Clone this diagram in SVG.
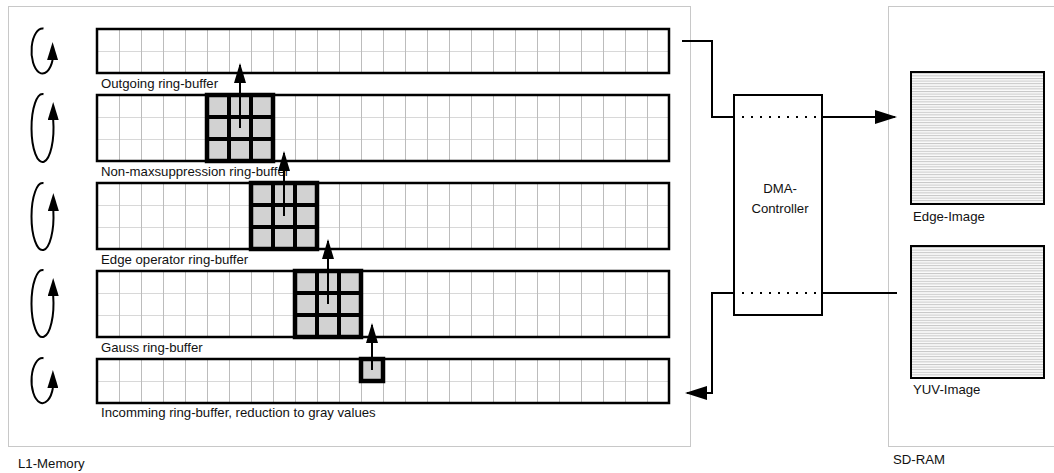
<svg xmlns="http://www.w3.org/2000/svg" width="1054" height="473" viewBox="0 0 1054 473">
  <style>
    text { font-family: "Liberation Sans", Arial, sans-serif; font-size: 13.2px; fill: #111; }
    .container { fill: none; stroke: #c8c8c8; stroke-width: 1; }
    .buffer { fill: url(#grid); stroke: #000; stroke-width: 2.5; }
    .kernel { fill: #d2d2d2; stroke: #000; stroke-width: 4.5; }
    .kline { stroke: #000; stroke-width: 4; }
    .loop { fill: none; stroke: #000; stroke-width: 2; marker-end: url(#loop-head); }
    .flow { fill: none; stroke: #000; stroke-width: 2; }
    .up { marker-end: url(#arrow); }
    .big { marker-end: url(#arrow-lg); }
    .image { fill: url(#hatch); stroke: #000; stroke-width: 2; }
    .dots { stroke: #000; stroke-width: 2.2; stroke-dasharray: 2 7; }
  </style>
  <defs>
    <!-- one 22x22 cell of the ring-buffer grid -->
    <pattern id="grid" patternUnits="userSpaceOnUse" x="97" y="7" width="22" height="22">
      <rect width="22" height="22" fill="#fff"/>
      <rect x="0" y="0" width="22" height="1" fill="#d8d8d8"/>
      <rect x="0" y="0" width="1" height="22" fill="#bcbcbc"/>
    </pattern>
    <!-- scan-line fill for the stored images -->
    <pattern id="hatch" patternUnits="userSpaceOnUse" x="0" y="0" width="8" height="2.6">
      <rect width="8" height="2.6" fill="#fbfbfb"/>
      <rect y="0" width="8" height="1" fill="#c6c6c6"/>
    </pattern>
    <marker id="arrow" markerUnits="userSpaceOnUse" markerWidth="20" markerHeight="12" refX="18" refY="6" orient="auto">
      <path d="M0,0 L20,6 L0,12 z" fill="#000"/>
    </marker>
    <marker id="arrow-lg" markerUnits="userSpaceOnUse" markerWidth="22" markerHeight="14" refX="20" refY="7" orient="auto">
      <path d="M0,0 L22,7 L0,14 z" fill="#000"/>
    </marker>
    <marker id="loop-head" markerUnits="userSpaceOnUse" markerWidth="18" markerHeight="11" refX="0" refY="5.5" orient="270">
      <path d="M0,0 L18,5.5 L0,11 z" fill="#000"/>
    </marker>
  </defs>

  <rect width="1054" height="473" fill="#fff"/>

  <!-- memory areas -->
  <g id="l1-memory">
    <rect class="container" x="8.5" y="6.5" width="682" height="440"/>
    <text x="18" y="468">L1-Memory</text>
  </g>
  <g id="sd-ram">
    <rect class="container" x="888.5" y="6.5" width="180" height="440"/>
    <text x="893" y="464">SD-RAM</text>
  </g>

  <!-- rotation markers of the ring-buffers -->
  <g id="rotation">
    <path class="loop" d="M43.5,28.6 A11,22.5 0 1 0 52.6,60"/>
    <path class="loop" d="M43.5,94.2 A11,34 0 1 0 53.2,120"/>
    <path class="loop" d="M43.5,183.2 A11,33.5 0 1 0 53.35,211"/>
    <path class="loop" d="M43.5,270.2 A11,33.5 0 1 0 53.2,296"/>
    <path class="loop" d="M43.5,358.2 A11,22.5 0 1 0 52.9,388"/>
  </g>

  <!-- ring-buffers -->
  <g id="outgoing-buffer">
    <rect class="buffer" x="97" y="29" width="572" height="44"/>
    <text x="101" y="87.5">Outgoing ring-buffer</text>
  </g>
  <g id="nonmax-buffer">
    <rect class="buffer" x="97" y="95" width="572" height="66"/>
    <text x="101" y="175.5">Non-maxsuppression ring-buffer</text>
  </g>
  <g id="edge-buffer">
    <rect class="buffer" x="97" y="183" width="572" height="66"/>
    <text x="101" y="263.5">Edge operator ring-buffer</text>
  </g>
  <g id="gauss-buffer">
    <rect class="buffer" x="97" y="271" width="572" height="66"/>
    <text x="101" y="351.5">Gauss ring-buffer</text>
  </g>
  <g id="incoming-buffer">
    <rect class="buffer" x="97" y="359" width="572" height="44"/>
    <text x="101" y="417">Incomming ring-buffer, reduction to gray values</text>
  </g>

  <!-- 3x3 operator windows -->
  <g id="nonmax-kernel">
    <rect class="kernel" x="207" y="95" width="66" height="66"/>
    <path class="kline" d="M229,95 V161 M251,95 V161 M207,117 H273 M207,139 H273"/>
  </g>
  <g id="edge-kernel">
    <rect class="kernel" x="251" y="183" width="66" height="66"/>
    <path class="kline" d="M273,183 V249 M295,183 V249 M251,205 H317 M251,227 H317"/>
  </g>
  <g id="gauss-kernel">
    <rect class="kernel" x="295" y="271" width="66" height="66"/>
    <path class="kline" d="M317,271 V337 M339,271 V337 M295,293 H361 M295,315 H361"/>
  </g>
  <g id="gray-pixel">
    <rect class="kernel" x="361" y="359" width="22" height="22" stroke-width="4"/>
  </g>

  <!-- DMA controller -->
  <g id="dma-controller">
    <rect x="734" y="95" width="88" height="220" fill="#fff" stroke="#000" stroke-width="2"/>
    <line class="dots" x1="742" y1="117" x2="816" y2="117"/>
    <line class="dots" x1="742" y1="293" x2="816" y2="293"/>
    <text x="780" y="193" text-anchor="middle">DMA-</text>
    <text x="780" y="213" text-anchor="middle">Controller</text>
  </g>

  <!-- images in SD-RAM -->
  <g id="edge-image">
    <rect class="image" x="911" y="72" width="133" height="132"/>
    <text x="913" y="221">Edge-Image</text>
  </g>
  <g id="yuv-image">
    <rect class="image" x="911" y="246" width="133" height="132"/>
    <text x="913" y="394">YUV-Image</text>
  </g>

  <!-- data flow -->
  <g id="connectors">
    <path class="flow up" d="M240,128 V65"/>
    <path class="flow up" d="M284,216 V153"/>
    <path class="flow up" d="M328,304 V241"/>
    <path class="flow up" d="M372,370 V325"/>
    <path class="flow" d="M682,41 H712 V117 H734"/>
    <path class="flow big" d="M822,117 H895"/>
    <path class="flow" d="M897,293 H822"/>
    <path class="flow big" d="M734,293 H712 V393 H687"/>
  </g>
</svg>
